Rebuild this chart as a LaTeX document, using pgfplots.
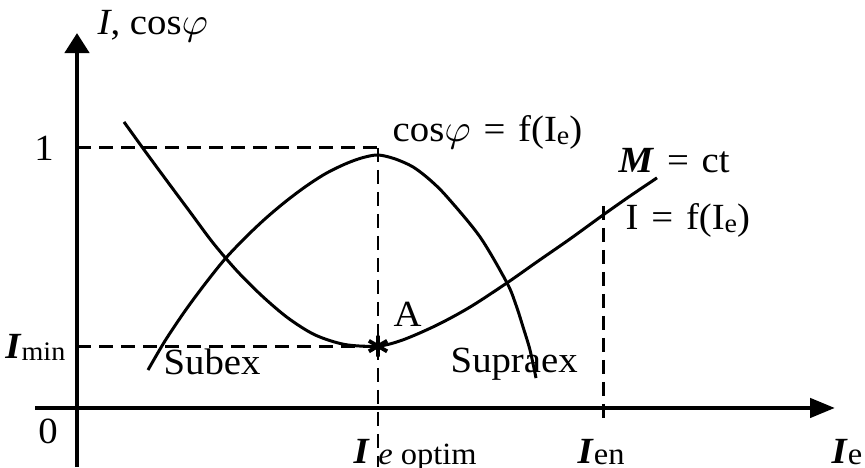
\documentclass[border=0pt]{standalone}
\usepackage{fontspec}
\setmainfont{Liberation Serif}
\usepackage{graphicx}
\usepackage{pgfplots}
\pgfplotsset{compat=1.18}
\usetikzlibrary{arrows.meta}

% slightly widened lettering, low-set subscripts
\newcommand{\lab}[1]{\scalebox{1.05}[1]{#1}}
\newcommand{\sub}[1]{\raisebox{-0.06em}{\fontsize{7.6pt}{8pt}\selectfont #1}}
\newcommand{\bsub}[1]{\raisebox{-0.04em}{\fontsize{8.8pt}{9pt}\selectfont #1}}
\newcommand{\eq}{\hspace{0.33em}=\hspace{0.33em}}
\newcommand{\bI}{\textbf{\textit{I}}}

% I = f(I_e) at constant torque (V-curve)
\pgfplotstableread{
x     y
0.47  1.100
0.68  0.988
0.90  0.873
1.13  0.754
1.36  0.635
1.60  0.527
1.85  0.431
2.11  0.346
2.38  0.281
2.68  0.244
3.01  0.238
3.26  0.262
3.60  0.319
3.93  0.388
4.30  0.481
4.60  0.562
4.93  0.650
5.26  0.742
5.53  0.815
5.80  0.885
}\curveI

% cos(phi) = f(I_e)
\pgfplotstableread{
x     y
0.71  0.146
0.88  0.258
1.08  0.373
1.28  0.477
1.48  0.573
1.68  0.654
1.88  0.727
2.08  0.792
2.28  0.850
2.48  0.900
2.68  0.938
2.85  0.962
3.01  0.973
3.18  0.958
3.36  0.927
3.53  0.877
3.70  0.812
4.03  0.658
4.30  0.481
4.39  0.396
4.46  0.312
4.53  0.223
4.59  0.115
}\curveCos

\begin{document}
\begin{tikzpicture}[font=\fontsize{10.5pt}{12pt}\selectfont,
  dashpat/.style={line width=0.85pt, dash pattern=on 1.4mm off 0.8mm},
  lbl/.style={inner sep=0pt}]
\begin{axis}[
  scale only axis, width=86.5mm, height=46.7mm,
  xmin=-0.77, xmax=7.88, ymin=-0.227, ymax=1.569,
  hide axis, clip=false,
]
% axes
\draw[line width=1.3pt, -{Triangle[length=2.5mm,width=1.9mm]}]
  (axis cs:-0.42,0) -- (axis cs:7.58,0);
\draw[line width=1.3pt, -{Triangle[length=2.0mm,width=2.4mm]}]
  (axis cs:0,-0.227) -- (axis cs:0,1.442);

% guide lines
\addplot[dashpat] coordinates {(0,1) (3.01,1)};
\addplot[dashpat] coordinates {(3.01,1) (3.01,-0.227)};
\addplot[dashpat] coordinates {(0,0.238) (3.01,0.238)};
\addplot[dashpat] coordinates {(5.26,0.777) (5.26,-0.06)};

% curves
\addplot[line width=0.85pt, smooth, tension=0.5] table[x=x,y=y] {\curveI};
\addplot[line width=0.85pt, smooth, tension=0.5] table[x=x,y=y] {\curveCos};

% operating point A
\addplot[only marks, mark=asterisk, mark size=3pt, line width=1.1pt] coordinates {(3.01,0.238)};

% labels
\node[lbl, anchor=base west] at (axis cs:0.20,1.435) {\lab{\textit{I}, cos$\varphi$}};
\node[lbl] at (axis cs:-0.33,1.0) {\lab{1}};
\node[lbl, anchor=base west] at (axis cs:3.15,1.023) {\lab{cos$\varphi$\eq f(I\sub{e})}};
\node[lbl, anchor=base west] at (axis cs:5.41,0.904) {\lab{\textbf{\textit{M}}\eq ct}};
\node[lbl, anchor=base west] at (axis cs:5.48,0.685) {\lab{I\eq f(I\sub{e})}};
\node[lbl, anchor=base west] at (axis cs:3.16,0.312) {\lab{A}};
\node[lbl, anchor=base east] at (axis cs:-0.11,0.19) {\lab{\bI\sub{min}}};
\node[lbl, anchor=base west] at (axis cs:0.86,0.127) {\lab{Subex}};
\node[lbl, anchor=base west] at (axis cs:3.73,0.135) {\lab{Supraex}};
\node[lbl] at (axis cs:-0.29,-0.092) {\lab{0}};
\node[lbl, anchor=base west] at (axis cs:2.76,-0.213) {\lab{\bI\hspace{0.22em}\bsub{\textit{e} optim}}};
\node[lbl, anchor=base west] at (axis cs:5.00,-0.213) {\lab{\bI\bsub{en}}};
\node[lbl, anchor=base west] at (axis cs:7.54,-0.213) {\lab{\bI\bsub{e}}};
\end{axis}
\pgfresetboundingbox
\path[use as bounding box] (current axis.south west) rectangle (current axis.north east);
\end{tikzpicture}
\end{document}
